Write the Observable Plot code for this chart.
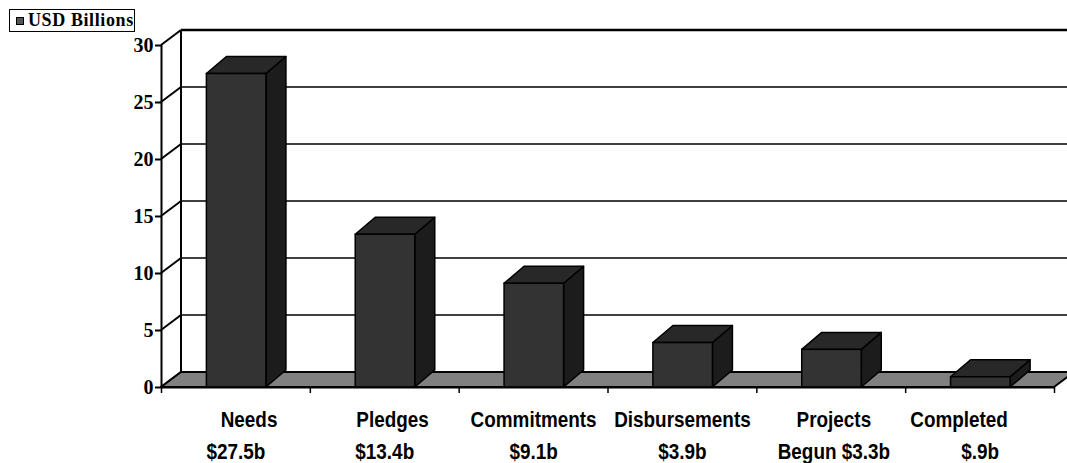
<!DOCTYPE html>
<html>
<head>
<meta charset="utf-8">
<script src="https://cdn.jsdelivr.net/npm/d3@7"></script>
<script src="https://cdn.jsdelivr.net/npm/@observablehq/plot@0.6"></script>
<style>
  html, body { margin: 0; padding: 0; background: #fff; overflow: hidden; }
  #wrap { position: relative; width: 1067px; height: 463px; }
  #legend {
    position: absolute; left: 9px; top: 9px; width: 124px; height: 21px;
    border: 1.5px solid #000; background: #fff;
    font-family: "Liberation Serif", "Times New Roman", serif; font-weight: bold;
    font-size: 18px; line-height: 21px; letter-spacing: 0.6px;
    display: flex; align-items: center; box-sizing: content-box;
  }
  #legend .sw { width: 6px; height: 6px; background: #555; border: 1.2px solid #000; margin: 0 4px 0 6px; }
</style>
</head>
<body>
<div id="wrap">
  <div id="chart"></div>
  <div id="legend"><span class="sw"></span><span>USD Billions</span></div>
</div>
<script>
// ---- data ----
const labelTop = ["\u00a0\u00a0\u00a0\u00a0\u00a0Needs", "\u00a0\u00a0\u00a0Pledges", "Commitments", "Disbursements", "\u00a0Projects", "Completed\u00a0\u00a0\u00a0\u00a0\u00a0\u00a0\u00a0\u00a0"];
const labelBottom = ["$27.5b", "$13.4b", "$9.1b", "$3.9b", "\u00a0Begun $3.3b", "$.9b"];
const values = [27.5, 13.4, 9.1, 3.9, 3.3, 0.9];
const yTicks = [0, 5, 10, 15, 20, 25, 30];

// ---- styling / geometry constants ----
const WDX = 20, WDY = -15;   // wall depth offset (px)
const BDX = 20, BDY = -17;   // bar depth offset (px)
const BAR_START = 0.305, BAR_W = 0.40;  // bar position within each category slot
const nCat = values.length;

const bars = values.map((v, i) => ({i, v, x1: i + BAR_START, x2: i + BAR_START + BAR_W}));
const cats = values.map((v, i) => ({i, xc: i + 0.5, top: labelTop[i], bottom: labelBottom[i]}));

// walls, gridlines, floor (drawn through the plot's scales)
const wallMark = (index, {x, y}) => {
  const g = d3.create("svg:g");
  const x0 = x(0), xN = x(nCat);
  for (const t of yTicks) {
    g.append("line")
      .attr("x1", x0 + WDX).attr("x2", xN + WDX + 40)
      .attr("y1", y(t) + WDY).attr("y2", y(t) + WDY)
      .attr("stroke", "#000")
      .attr("stroke-width", t === yTicks[yTicks.length - 1] ? 2.5 : 1.6);
    g.append("line")
      .attr("x1", x0).attr("y1", y(t))
      .attr("x2", x0 + WDX).attr("y2", y(t) + WDY)
      .attr("stroke", "#000").attr("stroke-width", 2);
  }
  g.append("line")
    .attr("x1", x0 + WDX).attr("x2", x0 + WDX)
    .attr("y1", y(0) + WDY).attr("y2", y(yTicks[yTicks.length - 1]) + WDY)
    .attr("stroke", "#000").attr("stroke-width", 2);
  const yb = y(0);
  g.append("path")
    .attr("d", `M${x0},${yb}L${xN},${yb}L${xN + WDX},${yb + WDY}L${x0 + WDX},${yb + WDY}Z`)
    .attr("fill", "#808080").attr("stroke", "#000").attr("stroke-width", 2)
    .attr("stroke-linejoin", "round");
  return g.node();
};

// bar tops & right sides
const barDepthMark = (index, {x, y}) => {
  const g = d3.create("svg:g");
  for (const b of bars) {
    const xl = x(b.x1), xr = x(b.x2), yt = y(b.v), yb = y(0);
    g.append("path")
      .attr("d", `M${xr},${yt}L${xr + BDX},${yt + BDY}L${xr + BDX},${yb + BDY}L${xr},${yb}Z`)
      .attr("fill", "#1c1c1c").attr("stroke", "#000").attr("stroke-width", 1.5).attr("stroke-linejoin", "round");
    g.append("path")
      .attr("d", `M${xl},${yt}L${xl + BDX},${yt + BDY}L${xr + BDX},${yt + BDY}L${xr},${yt}Z`)
      .attr("fill", "#282828").attr("stroke", "#000").attr("stroke-width", 1.5).attr("stroke-linejoin", "round");
  }
  return g.node();
};

const catFont = "'Liberation Sans', Arial, sans-serif";

const chart = Plot.plot({
  width: 1067,
  height: 463,
  marginLeft: 161,
  marginRight: 13,
  marginTop: 45,
  marginBottom: 76,
  x: {domain: [0, nCat], axis: null, label: null},
  y: {domain: [0, 30], axis: null, label: null},
  style: {background: "transparent", overflow: "visible"},
  marks: [
    wallMark,
    barDepthMark,
    Plot.rectY(bars, {x1: "x1", x2: "x2", y1: 0, y2: "v", fill: "#333333", stroke: "#000", strokeWidth: 1.5}),
    Plot.ruleX([0], {y1: 0, y2: 30, stroke: "#000", strokeWidth: 2}),
    Plot.ruleY([0], {x1: 0, x2: nCat, stroke: "#000", strokeWidth: 2}),
    Plot.axisY(yTicks, {anchor: "left", label: null, tickSize: 6, tickPadding: 2, stroke: "#000", strokeWidth: 2,
      fontSize: 20, fontWeight: "bold", fontFamily: "'Liberation Serif', 'Times New Roman', serif", fill: "#000"}),
    Plot.axisX(d3.range(nCat + 1), {anchor: "bottom", label: null, tickSize: 6, tickFormat: () => "", stroke: "#000", strokeWidth: 1.5}),
    Plot.text(cats, {x: "xc", y: 0, text: "top", dy: 39, lineAnchor: "bottom", textAnchor: "middle", className: "catlabel",
      fontSize: 22, fontWeight: "bold", fontFamily: catFont, fill: "#000"}),
    Plot.text(cats, {x: "xc", y: 0, text: "bottom", dy: 71, lineAnchor: "bottom", textAnchor: "middle", className: "catlabel",
      fontSize: 22, fontWeight: "bold", fontFamily: catFont, fill: "#000"})
  ]
});
// narrow the category labels (Arial Narrow look) by scaling each text horizontally about its anchor
d3.select(chart).selectAll(".catlabel text").each(function () {
  const t = this.getAttribute("transform") || "";
  this.setAttribute("transform", t + " scale(0.86,1)");
});
document.getElementById("chart").appendChild(chart);
</script>
</body>
</html>
